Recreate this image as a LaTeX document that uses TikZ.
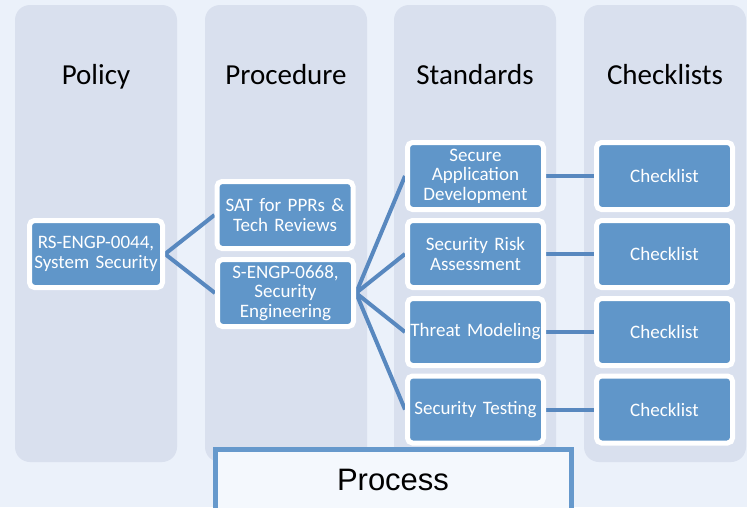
\documentclass[tikz,border=0pt]{standalone}
\usepackage{fontspec}
\setmainfont{Carlito}
\newfontfamily\boxfont[WordSpace=0.8]{Carlito}
\newfontfamily\arialfont{Liberation Sans}
\definecolor{pagebg}{HTML}{EBF1FA}
\definecolor{lanebg}{HTML}{D9E0EE}
\definecolor{boxblue}{HTML}{6096C9}
\definecolor{linkblue}{HTML}{5888BF}
\definecolor{procfill}{HTML}{F4F8FD}
\definecolor{procedge}{HTML}{6699CC}
\pgfdeclarelayer{lanes}
\pgfdeclarelayer{links}
\pgfsetlayers{lanes,links,main}
\tikzset{
  lane/.style={fill=lanebg, rounded corners=15pt},
  head/.style={anchor=base, font=\fontsize{29}{34}\selectfont, text=black},
  item/.style={rectangle, rounded corners=5pt, fill=boxblue, draw=white, line width=5pt,
    minimum height=67pt, text=white, align=center, inner sep=1pt,
    font=\boxfont\fontsize{19}{19.5}\selectfont},
  narrow/.style={item, minimum width=133pt, text width=130pt},
  wide/.style={item, minimum width=136pt, text width=134pt},
  link/.style={draw=linkblue, line width=4pt},
}
\begin{document}
\begin{tikzpicture}[x=1pt, y=-1pt]
  \useasboundingbox (0,0) rectangle (747,507);

  % page and lanes
  \begin{pgfonlayer}{lanes}
    \fill[pagebg] (0,0) rectangle (747,507);
    \fill[lane] (15,5) rectangle (177,462);
    \fill[lane] (205,5) rectangle (367,462);
    \fill[lane] (394,5) rectangle (556,462);
    \fill[lane] (584,5) rectangle (746,462);
  \end{pgfonlayer}

  % lane headings
  \node[head] (hpol) at (96,84) {Policy};
  \node[head] (hpro) at (286,84) {Procedure};
  \node[head] (hstd) at (475,84) {Standards};
  \node[head] (hchk) at (665,84) {Checklists};

  % documents
  \node[narrow] (pol) at (96,254) {RS-ENGP-0044,\\System Security};
  \node[wide, minimum width=135pt] (sat) at (285,215) {SAT for PPRs \&\\Tech Reviews};
  \node[wide, minimum width=135pt] (seng) at (285.5,293) {S-ENGP-0668,\\Security\\Engineering};

  \node[wide] (sad) at (475.5,176) {Secure\\Application\\Development};
  \node[wide] (sra) at (475.5,254) {Security Risk\\Assessment};
  \node[wide] (thm) at (475.5,332) {Threat Modeling};
  \node[wide] (sts) at (475.5,409.5) {Security Testing};

  \node[wide] (c1) at (664.5,176) {Checklist};
  \node[wide] (c2) at (664.5,254) {Checklist};
  \node[wide] (c3) at (664.5,332) {Checklist};
  \node[wide] (c4) at (664.5,409.5) {Checklist};

  % connectors, kept behind the boxes
  \begin{pgfonlayer}{links}
    \draw[link] (pol.east) -- (sat.west);
    \draw[link] (pol.east) -- (seng.west);
    \foreach \s in {sad,sra,thm,sts} {
      \draw[link] (seng.east) -- (\s.west);
    }
    \draw[link] (sad.east) -- (c1.west);
    \draw[link] (sra.east) -- (c2.west);
    \draw[link] (thm.east) -- (c3.west);
    \draw[link] (sts.east) -- (c4.west);
  \end{pgfonlayer}

  % process banner
  \draw[fill=procfill, draw=procedge, line width=5pt] (215.5,449.5) rectangle (571.5,520);
  \node[anchor=base, font=\arialfont\fontsize{31}{36}\selectfont] (proc) at (393,490) {Process};
\end{tikzpicture}
\end{document}
